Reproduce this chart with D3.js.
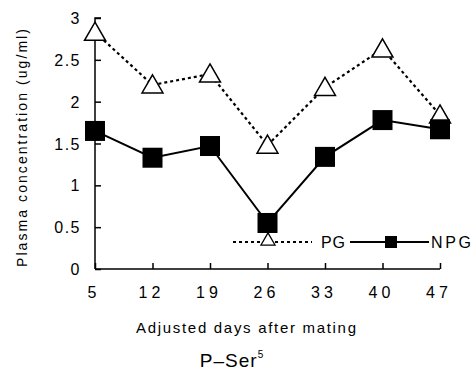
<!DOCTYPE html>
<html>
<head>
<meta charset="utf-8">
<script src="https://cdn.jsdelivr.net/npm/d3@7"></script>
<style>
  body { margin: 0; background: #fff; }
  text { font-family: "Liberation Sans", Arial, sans-serif; fill: #000; }
</style>
</head>
<body>
<svg id="chart"></svg>
<script>
const width = 476;
const height = 377;

// data
const days = [5, 12, 19, 26, 33, 40, 47];
const pgValues = [2.83, 2.2, 2.33, 1.48, 2.17, 2.63, 1.84];
const npgValues = [1.65, 1.33, 1.47, 0.55, 1.34, 1.78, 1.67];
const yTicks = [0, 0.5, 1, 1.5, 2, 2.5, 3];

const svg = d3.select("#chart")
  .attr("width", width)
  .attr("height", height);

const x = d3.scaleLinear().domain([5, 47]).range([95, 440]);
const y = d3.scaleLinear().domain([0, 3]).range([269, 18]);

// axes, ticks inward
const yAxis = svg.append("g")
  .attr("transform", "translate(95,0)")
  .call(d3.axisRight(y).tickValues(yTicks).tickSize(6).tickFormat(""));
yAxis.selectAll("line, path").attr("stroke", "#000").attr("stroke-width", 1.5);
yAxis.select(".domain").attr("d", `M6,${y(3)}H0V${y(0)}`);

const xAxis = svg.append("g")
  .attr("transform", "translate(0,269)")
  .call(d3.axisTop(x).tickValues(days).tickSize(6).tickFormat(""));
xAxis.selectAll("line, path").attr("stroke", "#000").attr("stroke-width", 1.5);
xAxis.select(".domain").attr("d", `M${x(5)},0H${x(47)}`);

// tick labels
svg.append("g").selectAll("text")
  .data(yTicks)
  .enter().append("text")
  .attr("x", 81)
  .attr("y", d => y(d) + 6)
  .attr("text-anchor", "end")
  .style("font-size", "16px")
  .style("letter-spacing", "1.5px")
  .text(d => d);

svg.append("g").selectAll("text")
  .data(days)
  .enter().append("text")
  .attr("x", d => x(d) - 1)
  .attr("y", 298)
  .attr("text-anchor", "middle")
  .style("font-size", "16px")
  .style("letter-spacing", "4px")
  .text(d => d);

// axis titles
svg.append("text")
  .attr("transform", "translate(27,148) rotate(-90)")
  .attr("text-anchor", "middle")
  .attr("textLength", 238)
  .attr("lengthAdjust", "spacing")
  .style("font-size", "14px")
  .text("Plasma concentration (ug/ml)");

svg.append("text")
  .attr("x", 246)
  .attr("y", 333)
  .attr("text-anchor", "middle")
  .attr("textLength", 220)
  .attr("lengthAdjust", "spacing")
  .style("font-size", "15px")
  .text("Adjusted days after mating");

const title = svg.append("text")
  .attr("x", 232)
  .attr("y", 367)
  .attr("text-anchor", "middle")
  .style("font-size", "19px")
  .style("letter-spacing", "1px");
title.append("tspan").text("P‒Ser");
title.append("tspan").attr("dy", -9).style("font-size", "10px").text("5");

// lines
const line = vals => d3.line()
  .x((d, i) => x(days[i]))
  .y(d => y(d))(vals);

svg.append("path")
  .attr("d", line(pgValues))
  .attr("fill", "none")
  .attr("stroke", "#000")
  .attr("stroke-width", 2.2)
  .attr("stroke-dasharray", "3,3");

svg.append("path")
  .attr("d", line(npgValues))
  .attr("fill", "none")
  .attr("stroke", "#000")
  .attr("stroke-width", 2);

const tri = d3.symbol().type(d3.symbolTriangle);

svg.append("g").selectAll("path")
  .data(pgValues)
  .enter().append("path")
  .attr("transform", (d, i) => `translate(${x(days[i])},${y(d) + 2})`)
  .attr("d", tri.size(190)())
  .attr("fill", "#fff")
  .attr("stroke", "#000")
  .attr("stroke-width", 1.5);

svg.append("g").selectAll("rect")
  .data(npgValues)
  .enter().append("rect")
  .attr("x", (d, i) => x(days[i]) - 10)
  .attr("y", d => y(d) - 10)
  .attr("width", 20)
  .attr("height", 20)
  .attr("fill", "#000");

// legend
const legend = svg.append("g");
legend.append("line")
  .attr("x1", 233).attr("x2", 312).attr("y1", 242).attr("y2", 242)
  .attr("stroke", "#000").attr("stroke-width", 2).attr("stroke-dasharray", "3,3");
legend.append("path")
  .attr("transform", "translate(268,241)")
  .attr("d", tri.size(85)())
  .attr("fill", "#fff").attr("stroke", "#000").attr("stroke-width", 1.3);
legend.append("text")
  .attr("x", 321).attr("y", 248)
  .attr("textLength", 24).attr("lengthAdjust", "spacing")
  .style("font-size", "16px")
  .text("PG");
legend.append("line")
  .attr("x1", 350).attr("x2", 429).attr("y1", 242).attr("y2", 242)
  .attr("stroke", "#000").attr("stroke-width", 2);
legend.append("rect")
  .attr("x", 385).attr("y", 236).attr("width", 12).attr("height", 12)
  .attr("fill", "#000");
legend.append("text")
  .attr("x", 431).attr("y", 248)
  .attr("textLength", 40).attr("lengthAdjust", "spacing")
  .style("font-size", "16px")
  .text("NPG");
</script>
</body>
</html>
